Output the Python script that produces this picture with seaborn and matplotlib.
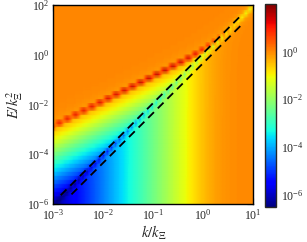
import numpy as np
import pandas as pd
import matplotlib
matplotlib.use("Agg")
import matplotlib.pyplot as plt
from matplotlib.colors import LogNorm
from matplotlib.ticker import FixedLocator, LogFormatterMathtext, NullLocator
import seaborn as sns

# ---- values ----
k_limits = [1e-3, 1e1]
E_limits = [1e-6, 1e2]
sound_speed = 1.4          # peak branch E ~ c k at small k
dip_coeff = 0.9            # dip line E = a k^2
dip_width = 0.35           # width of the dip (in ln E)
dip_depth = 0.03           # relative level at the bottom of the dip
peak_height = 14.0         # peak value at k = 1e-3
peak_growth = 0.2          # growth exponent of peak height with k
peak_width_dec = 0.05      # peak width in decades of E
plateau_level = 1.0        # orange background level
dashed_coeffs = [1.15, 0.46]
dashed_k_start = [1.4e-3, 2.3e-3]
dashed_k_end = [5.4, 6.5]
cbar_limits = [3e-7, 1e2]
x_ticks = [1e-3, 1e-2, 1e-1, 1e0, 1e1]
y_ticks = [1e-6, 1e-4, 1e-2, 1e0, 1e2]
cbar_ticks = [1e-6, 1e-4, 1e-2, 1e0]
n_k, n_E = 200, 50         # sampling grid of the original map

# ---- field ----
k = np.logspace(np.log10(k_limits[0]), np.log10(k_limits[1]), n_k)
E = np.logspace(np.log10(E_limits[0]), np.log10(E_limits[1]), n_E)
K, EE = np.meshgrid(k, E)
E_dip = dip_coeff * K**2
E_peak = np.sqrt((sound_speed * K)**2 + E_dip**2)
U0 = plateau_level * (EE**2 + E_dip**2) / (EE**2 + E_peak**2)
x = np.log(EE / E_dip)
D = x**2 / (x**2 + dip_width**2) + dip_depth
A = peak_height * (K / k_limits[0])**peak_growth * ((E_peak - E_dip) / E_peak)**2
G = np.exp(-((np.log10(EE) - np.log10(E_peak)) / peak_width_dec)**2)
V = U0 * D + A * G

# ---- style ----
sns.set_style("ticks")
plt.rcParams.update({
    "font.family": ["Liberation Serif", "DejaVu Serif"],
    "mathtext.fontset": "stix",
    "axes.linewidth": 1.0,
    "xtick.direction": "in",
    "ytick.direction": "in",
    "xtick.top": True,
    "ytick.right": True,
    "xtick.major.size": 4,
    "ytick.major.size": 4,
})

fig = plt.figure(figsize=(3.07, 2.42), dpi=100)
ax = fig.add_axes([0.174, 0.157, 0.650, 0.822])
cax = fig.add_axes([0.863, 0.145, 0.036, 0.839])

mesh = ax.pcolormesh(K, EE, V, cmap="jet", shading="gouraud",
                     norm=LogNorm(vmin=cbar_limits[0], vmax=cbar_limits[1]),
                     rasterized=True)

lines = []
for i, (c, k0, k1) in enumerate(zip(dashed_coeffs, dashed_k_start, dashed_k_end)):
    kk = np.array([k0, k1])
    lines.append(pd.DataFrame({"k": kk, "E": c * kk**2, "line": i}))
df_lines = pd.concat(lines)
sns.lineplot(data=df_lines, x="k", y="E", units="line", estimator=None,
             color="black", lw=1.3, ax=ax, sort=False)
for ln in ax.get_lines():
    ln.set_linestyle((0, (4.5, 3)))

ax.set_xscale("log")
ax.set_yscale("log")
ax.set_xlim(k_limits)
ax.set_ylim(E_limits)
ax.xaxis.set_major_locator(FixedLocator(x_ticks))
ax.yaxis.set_major_locator(FixedLocator(y_ticks))
ax.xaxis.set_minor_locator(NullLocator())
ax.yaxis.set_minor_locator(NullLocator())
ax.xaxis.set_major_formatter(LogFormatterMathtext())
ax.yaxis.set_major_formatter(LogFormatterMathtext())
ax.tick_params(labelsize=8.5, width=0.8, color="black", pad=3)
ax.set_xlabel(r"$k/k_{\Xi}$", fontsize=10.5, labelpad=1)
ax.set_ylabel(r"$E/k_{\Xi}^{2}$", fontsize=10.5, labelpad=1)
for s in ax.spines.values():
    s.set_color("black")

cb = fig.colorbar(mesh, cax=cax)
cb.set_ticks(cbar_ticks)
cb.ax.yaxis.set_minor_locator(NullLocator())
cb.ax.tick_params(labelsize=8.5, direction="in", length=3, width=0.8)
cb.outline.set_linewidth(1.0)

fig.savefig("out.png", dpi=100)
